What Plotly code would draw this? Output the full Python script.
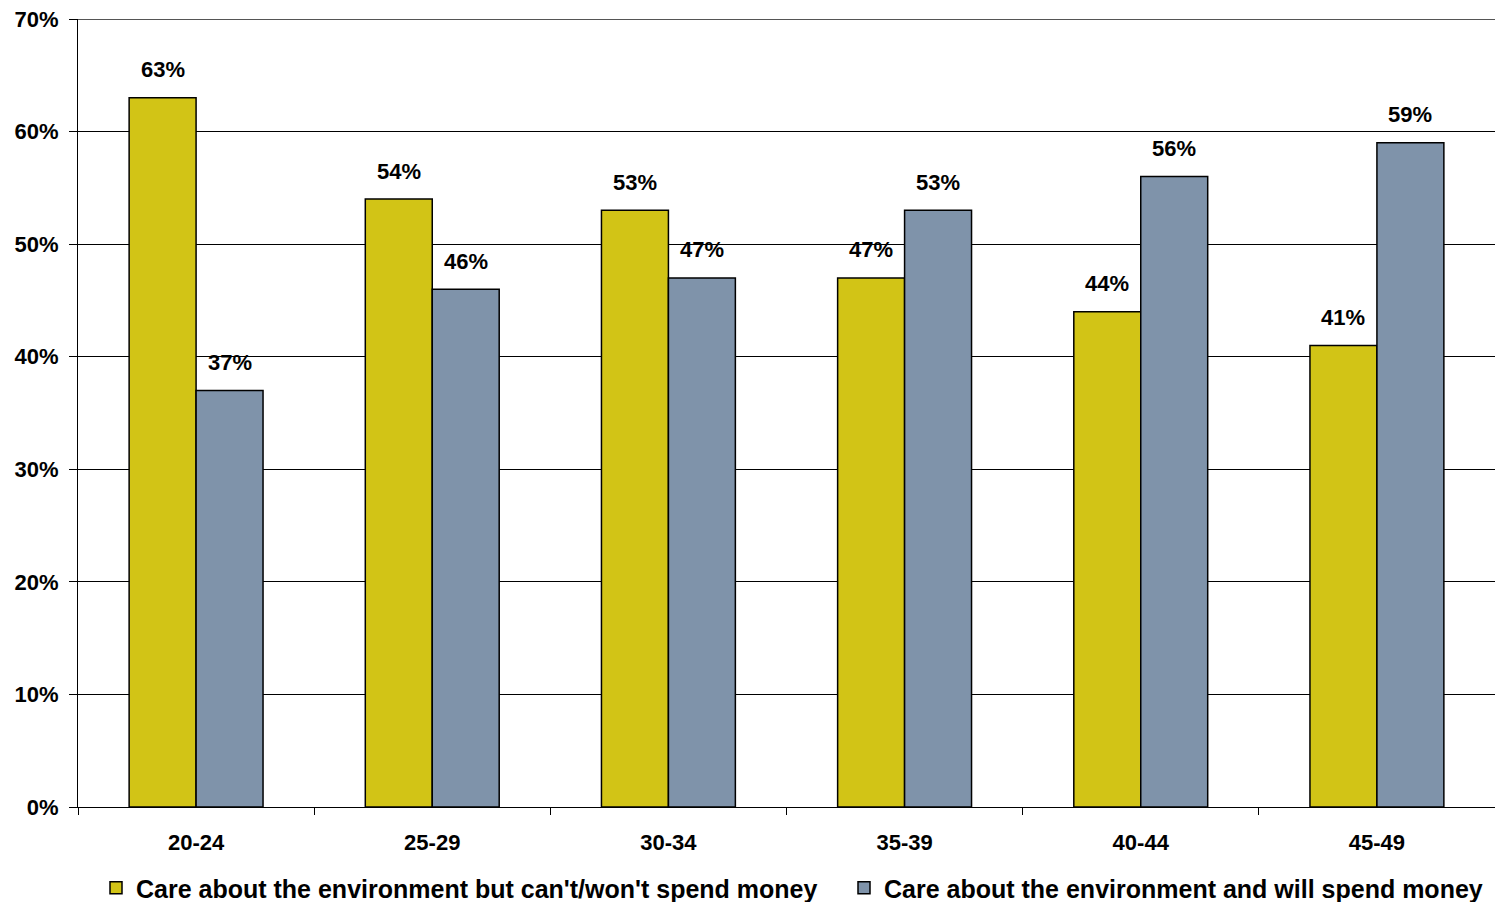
import plotly.graph_objects as go

categories = ["20-24", "25-29", "30-34", "35-39", "40-44", "45-49"]
wont_spend = [63, 54, 53, 47, 44, 41]
will_spend = [37, 46, 47, 53, 56, 59]
series_names = [
    "Care about the environment but can't/won't spend money",
    "Care about the environment and will spend money",
]
y_ticks = [0, 10, 20, 30, 40, 50, 60, 70]

FONT = "Liberation Sans, Arial, sans-serif"
YELLOW = "#D2C416"
BLUE = "#7F93AA"
BARGAP = 0.433
HALF_BAR = (1 - BARGAP) / 4  # centre offset of each bar inside its group

fig = go.Figure()
for name, vals, col, leg in [(series_names[0], wont_spend, YELLOW, "legend"),
                             (series_names[1], will_spend, BLUE, "legend2")]:
    fig.add_trace(go.Bar(
        name=f"<b>{name}</b>", x=categories, y=vals, legend=leg,
        marker=dict(color=col, line=dict(color="black", width=1.5)),
        hoverinfo="x+y",
    ))

# value labels above each bar
for i, c in enumerate(categories):
    for off, vals in [(-HALF_BAR, wont_spend), (HALF_BAR, will_spend)]:
        fig.add_annotation(
            x=i + off, y=vals[i], xref="x", yref="y",
            text=f"<b>{vals[i]}%</b>", showarrow=False, yshift=28,
            font=dict(family=FONT, size=22, color="black"),
        )

# gridline at the top of the value range
fig.add_shape(type="line", xref="paper", yref="y", x0=0, x1=1,
              y0=y_ticks[-1], y1=y_ticks[-1],
              line=dict(color="#555555", width=2), layer="below")

legend_common = dict(orientation="h", xref="container", yref="container",
                     xanchor="left", y=1 - 888 / 902, yanchor="middle",
                     font=dict(family=FONT, size=25, color="black"),
                     itemwidth=30, bgcolor="rgba(0,0,0,0)")

fig.update_layout(
    width=1495, height=902,
    margin=dict(l=78, r=0, t=19, b=95, autoexpand=False),
    paper_bgcolor="white", plot_bgcolor="white",
    barmode="group", bargap=BARGAP, bargroupgap=0,
    font=dict(family=FONT, color="black"),
    showlegend=True,
    legend=dict(x=96 / 1495, **legend_common),
    legend2=dict(x=844 / 1495, **legend_common),
    xaxis=dict(
        type="category", showline=True, linecolor="black", linewidth=1,
        ticks="outside", tickson="boundaries", ticklen=7, tickcolor="black",
        tickfont=dict(family=FONT, size=22, color="black"),
        ticklabelstandoff=16,
        showgrid=False, range=[-0.5, 5.5], automargin=False,
        tickvals=categories, ticktext=[f"<b>{c}</b>" for c in categories],
    ),
    yaxis=dict(
        range=[0, 70], tickvals=y_ticks, ticktext=[f"<b>{v}%</b>" for v in y_ticks],
        showline=True, linecolor="black", linewidth=1,
        ticks="outside", ticklen=8, tickcolor="black",
        showgrid=True, gridcolor="black", gridwidth=1,
        tickfont=dict(family=FONT, size=22, color="black"),
        ticklabelstandoff=6,
        zeroline=False, automargin=False,
    ),
)

fig.write_html("out.html")
